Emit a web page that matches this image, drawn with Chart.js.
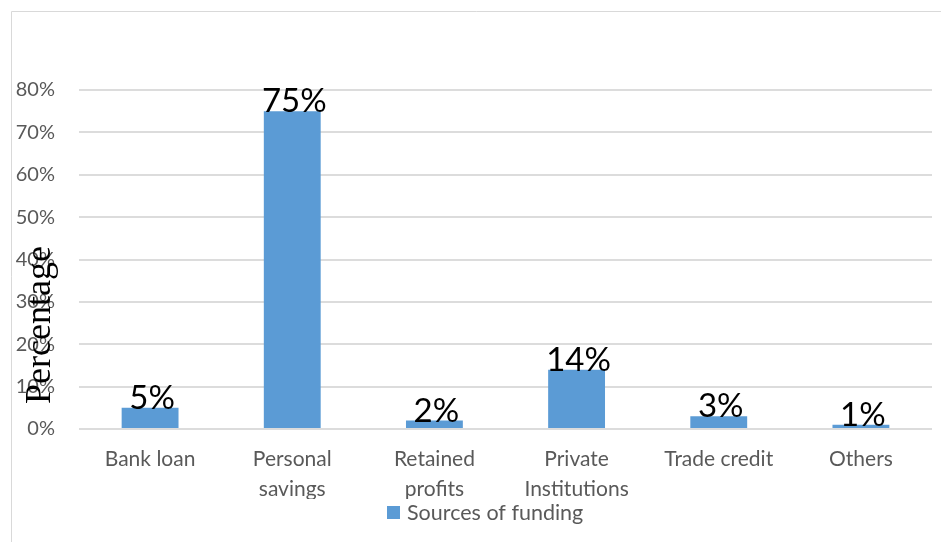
<!DOCTYPE html>
<html>
<head>
<meta charset="utf-8">
<script src="https://cdn.jsdelivr.net/npm/chart.js@4.4.1/dist/chart.umd.min.js"></script>
<style>
  html, body { margin: 0; padding: 0; background: #fff; }
  canvas { display: block; }
</style>
</head>
<body>
<canvas id="fundingChart" width="941" height="542"></canvas>
<script>
var categories = [
  'Bank loan',
  ['Personal', 'savings'],
  ['Retained', 'profits'],
  ['Private', 'Institutions'],
  'Trade credit',
  'Others'
];
var percentages = [5, 75, 2, 14, 3, 1];
var yTicks = [0, 10, 20, 30, 40, 50, 60, 70, 80];
var seriesName = 'Sources of funding';
var axisTitle = 'Percentage';

var barColor = '#5B9BD5';
var textGray = '#595959';
var gridGray = '#DCDCDC';

// outer frame of the chart
var framePlugin = {
  id: 'frame',
  beforeDraw: function (chart) {
    var ctx = chart.ctx;
    ctx.save();
    ctx.strokeStyle = '#D9D9D9';
    ctx.lineWidth = 1;
    ctx.beginPath();
    ctx.moveTo(11.5, chart.height);
    ctx.lineTo(11.5, 11.5);
    ctx.lineTo(chart.width, 11.5);
    ctx.stroke();
    ctx.restore();
  }
};

// value labels sitting on top of each bar
var valueLabels = {
  id: 'valueLabels',
  afterDatasetsDraw: function (chart) {
    var ctx = chart.ctx;
    var meta = chart.getDatasetMeta(0);
    ctx.save();
    ctx.font = '33px Lato';
    ctx.fillStyle = '#000';
    ctx.textAlign = 'center';
    ctx.textBaseline = 'alphabetic';
    meta.data.forEach(function (bar, i) {
      ctx.fillText(chart.data.datasets[0].data[i] + '%', bar.x + 2, bar.y + 1);
    });
    ctx.restore();
  }
};

// rotated axis title and the legend underneath
var extras = {
  id: 'extras',
  afterDraw: function (chart) {
    var ctx = chart.ctx;
    ctx.save();
    ctx.translate(50, 325);
    ctx.rotate(-Math.PI / 2);
    ctx.font = '36px "Liberation Serif"';
    ctx.fillStyle = '#000';
    ctx.textAlign = 'center';
    ctx.textBaseline = 'alphabetic';
    ctx.fillText(axisTitle, 0, 0);
    ctx.restore();

    ctx.save();
    ctx.fillStyle = chart.data.datasets[0].backgroundColor;
    ctx.fillRect(387, 506, 13, 13);
    ctx.font = '21.5px Lato';
    ctx.fillStyle = textGray;
    ctx.textAlign = 'left';
    ctx.textBaseline = 'middle';
    ctx.fillText(chart.data.datasets[0].label, 407, 513);
    ctx.restore();
  }
};

var ctx = document.getElementById('fundingChart').getContext('2d');
new Chart(ctx, {
  type: 'bar',
  data: {
    labels: categories,
    datasets: [{
      label: seriesName,
      data: percentages,
      backgroundColor: barColor,
      categoryPercentage: 1,
      barPercentage: 0.4
    }]
  },
  options: {
    responsive: false,
    animation: false,
    devicePixelRatio: 1,
    layout: { padding: { top: 90, left: 0, right: 9, bottom: 43 } },
    plugins: {
      legend: { display: false },
      tooltip: { enabled: false }
    },
    scales: {
      x: {
        grid: { display: false, drawTicks: false },
        border: { display: false },
        ticks: {
          color: textGray,
          font: { family: 'Lato', size: 21, lineHeight: 1.4 },
          padding: 16,
          maxRotation: 0,
          autoSkip: false
        },
        afterFit: function (scale) { scale.height = 70; }
      },
      y: {
        min: 0,
        max: 80,
        grid: { color: gridGray, lineWidth: 2, drawTicks: false },
        border: { display: false },
        afterBuildTicks: function (scale) {
          scale.ticks = yTicks.map(function (v) { return { value: v }; });
        },
        ticks: {
          color: textGray,
          font: { family: 'Lato', size: 20 },
          padding: 24,
          callback: function (v) { return v + '%'; }
        },
        afterFit: function (scale) { scale.width = 79; }
      }
    }
  },
  plugins: [framePlugin, valueLabels, extras]
});
</script>
</body>
</html>
